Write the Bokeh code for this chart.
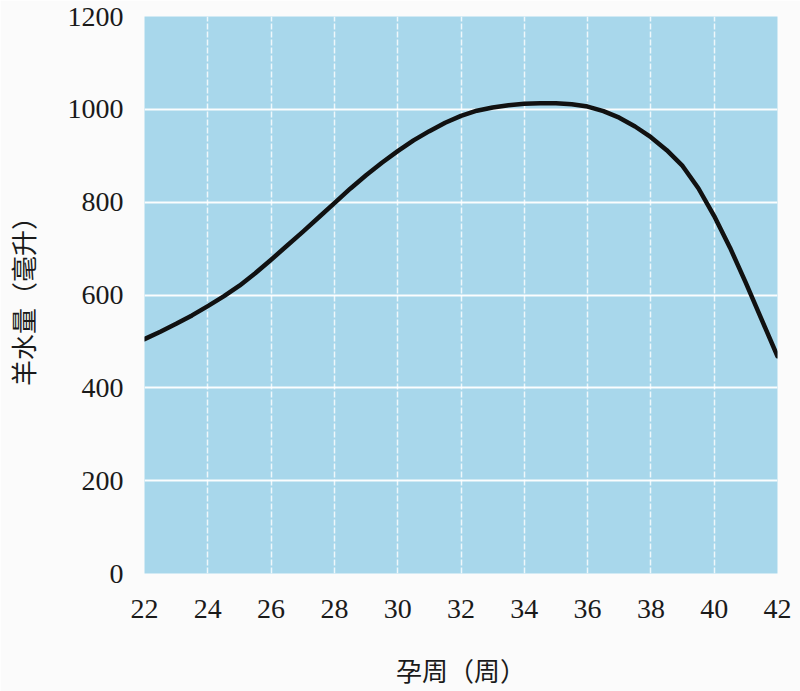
from bokeh.plotting import figure
from bokeh.embed import file_html
from bokeh.resources import INLINE
from bokeh.models import FixedTicker, Range1d

# Data (half-week readings of the curve)
weeks = [22, 22.5, 23, 23.5, 24, 24.5, 25, 25.5, 26, 26.5, 27, 27.5, 28, 28.5, 29, 29.5,
         30, 30.5, 31, 31.5, 32, 32.5, 33, 33.5, 34, 34.5, 35, 35.5, 36, 36.5, 37, 37.5,
         38, 38.5, 39, 39.5, 40, 40.5, 41, 41.5, 42]
volume = [505, 521, 538, 556, 576, 597, 620, 647, 676, 706, 736, 767, 798, 829, 858, 885,
          910, 933, 953, 971, 986, 997, 1004, 1009, 1012, 1013, 1013, 1011, 1006, 996, 982, 963,
          940, 912, 878, 830, 770, 702, 626, 547, 468]
x_ticks = [22, 24, 26, 28, 30, 32, 34, 36, 38, 40, 42]
y_ticks = [0, 200, 400, 600, 800, 1000, 1200]
x_label = "孕周（周）"
y_label = "羊水量（毫升）"

p = figure(width=800, height=691, output_backend="svg", toolbar_location=None,
           x_range=Range1d(22, 42), y_range=Range1d(0, 1200),
           min_border_left=143, min_border_right=23, min_border_top=16, min_border_bottom=118)

p.background_fill_color = "#a8d7eb"
p.border_fill_color = "#fbfbfb"
p.outline_line_color = None

p.line(weeks, volume, line_color="#111111", line_width=4.5, line_cap="round", line_join="round")

p.xaxis.ticker = FixedTicker(ticks=x_ticks)
p.yaxis.ticker = FixedTicker(ticks=y_ticks)

for ax in (p.xaxis[0], p.yaxis[0]):
    ax.axis_line_color = None
    ax.major_tick_line_color = None
    ax.minor_tick_line_color = None
    ax.major_label_text_font = "Liberation Serif"
    ax.major_label_text_font_size = "28px"
    ax.major_label_text_color = "#1a1a1a"
    ax.axis_label_text_font = "Noto Sans CJK SC"
    ax.axis_label_text_font_size = "26px"
    ax.axis_label_text_font_style = "normal"
    ax.axis_label_text_color = "#1a1a1a"

p.xaxis.axis_label = x_label
p.yaxis.axis_label = y_label
p.xaxis.major_label_standoff = 20
p.xaxis.axis_label_standoff = 30
p.yaxis.major_label_standoff = 15
p.yaxis.axis_label_standoff = 24

p.xgrid.ticker = FixedTicker(ticks=x_ticks)
p.ygrid.ticker = FixedTicker(ticks=y_ticks)
p.xgrid.grid_line_color = "white"
p.xgrid.grid_line_width = 1.5
p.xgrid.grid_line_alpha = 0.8
p.xgrid.grid_line_dash = "6 2"
p.ygrid.grid_line_color = "white"
p.ygrid.grid_line_width = 2
p.ygrid.grid_line_alpha = 0.95

open("out.html", "w").write(file_html(p, INLINE))
